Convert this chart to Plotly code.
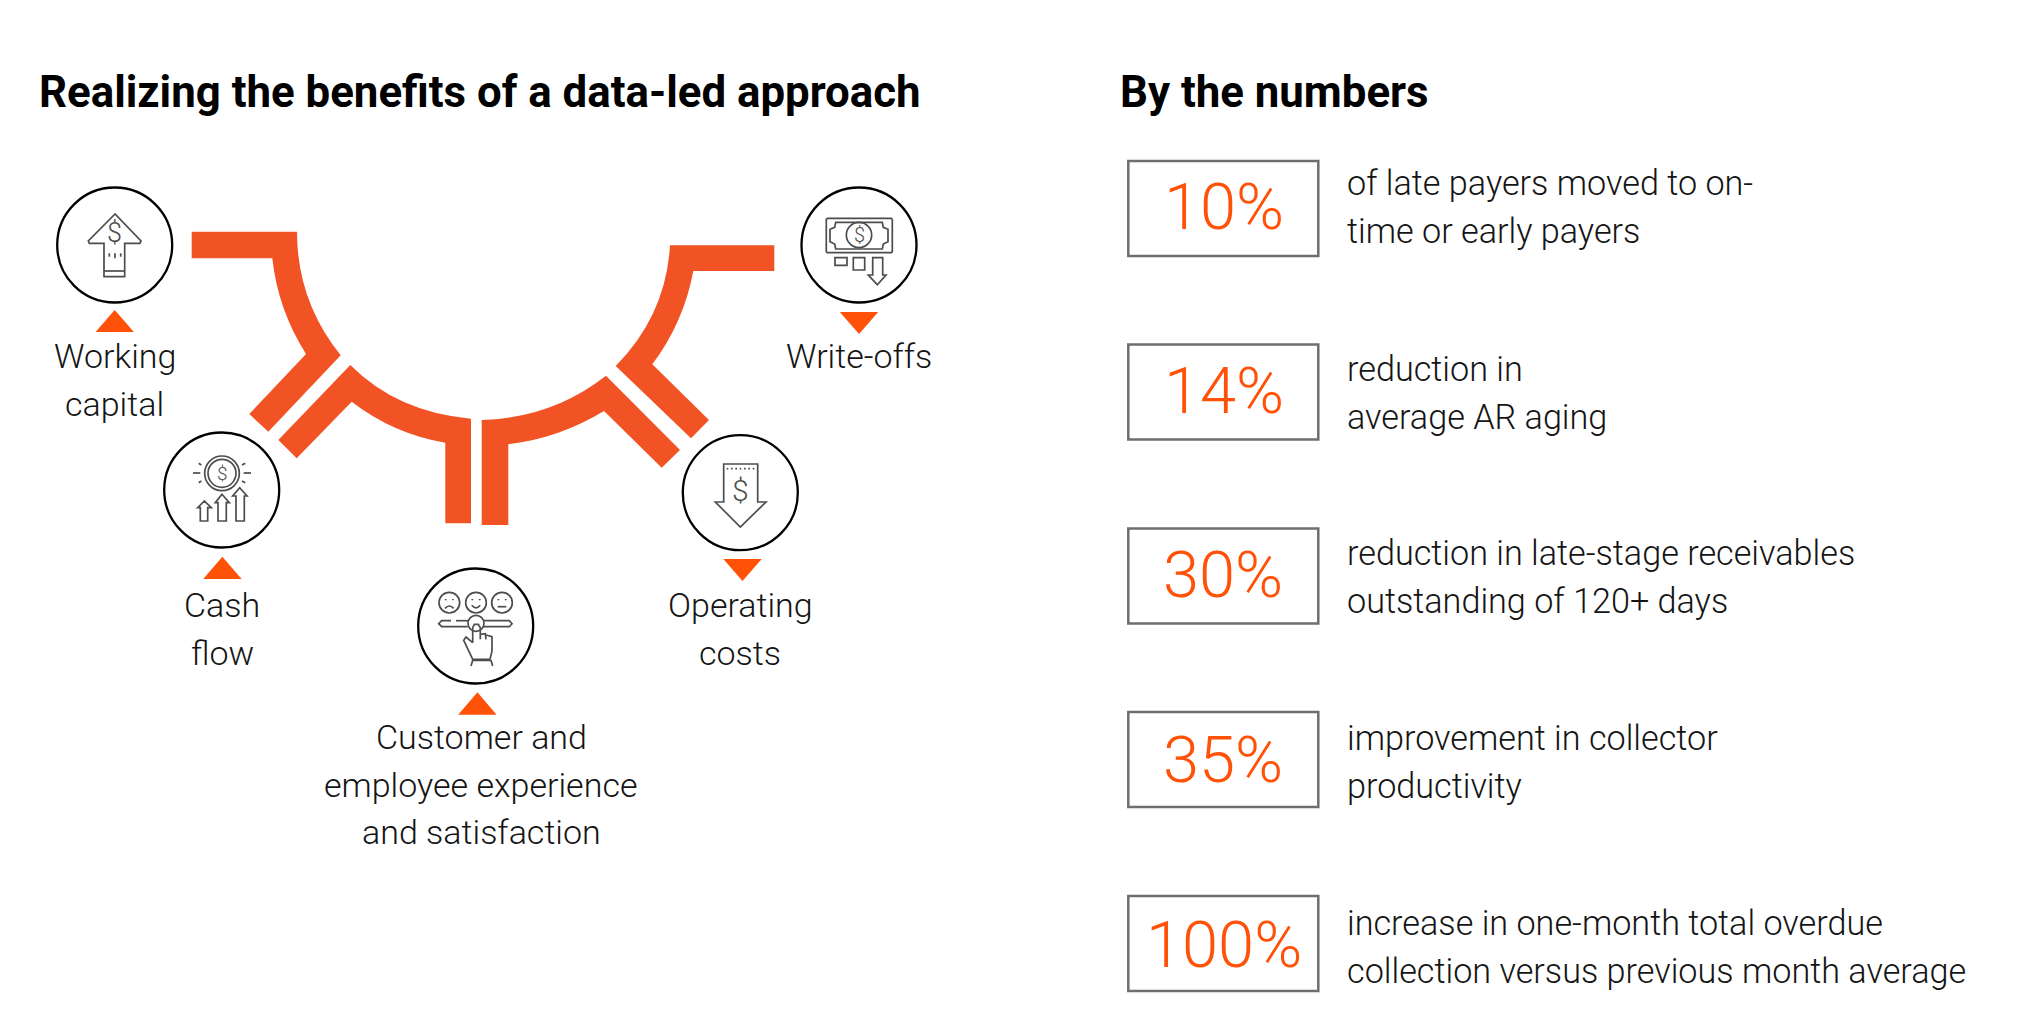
import plotly.graph_objects as go

# values and labels from the picture
percent_values = [10, 14, 30, 35, 100]
percent_notes = [
    ["of late payers moved to on-", "time or early payers"],
    ["reduction in", "average AR aging"],
    ["reduction in late-stage receivables", "outstanding of 120+ days"],
    ["improvement in collector", "productivity"],
    ["increase in one-month total overdue", "collection versus previous month average"],
]
benefit_labels = [
    ["Working", "capital"],
    ["Cash", "flow"],
    ["Customer and", "employee experience", "and satisfaction"],
    ["Operating", "costs"],
    ["Write-offs"],
]
headings = ["Realizing the benefits of a data-led approach", "By the numbers"]

# layout of the page, in pixels
box_tops = [161, 344.5, 528.5, 712, 896]
percent_x = [1224, 1224, 1222.7, 1223, 1224]
percent_baselines = [229.3, 413.3, 597.5, 782.5, 967.5]
note_baselines = [195, 380.7, 565, 750, 934.3]
circle_x = [114.7, 221.7, 475.7, 740.3, 859]
circle_y = [245, 490, 626, 492.7, 245]
label_x = [114.7, 222, 481, 740, 859]
label_baselines = [368, 616.7, 748.5, 616.7, 368]
# triangle: x centre, tip y, base y
triangles = [(114.7, 310, 332), (222.4, 556.7, 579), (477.4, 692.3, 714.7), (742.5, 581, 559), (859, 334, 312)]

RING = "#F25325"
TRI = "#FF5208"
PCT = "#FF5208"
INK = "#141414"
ICON = "#4D4D4D"
LIGHT = "Roboto"
LABEL_SIZE = 34

ring_paths = [
    "M191.7,231.7 L297,231.7 Q297,301 340.7,355.3 L268.3,431.7 L249.3,414 L306,354 Q278,310 272.3,258.3 L191.7,258.3 Z",
    "M350.3,365 Q397,412 471,418.7 L471,523.3 L445.3,523.3 L445.3,442.7 Q393.2,433.8 351.7,401.7 L296.7,458.3 L278.3,440 Z",
    "M481.7,420 Q552,418 606,375.7 L680,450 L661.7,467.7 L604,411 Q559.7,438 508.3,444.3 L508.3,525 L481.7,525 Z",
    "M670,245.3 L774.3,245.3 L774.3,271 L693.3,271 Q683.7,322.6 652.3,364.3 L709,420 L691,438.3 L615.7,366 Q666,315 670,245.3 Z",
]

fig = go.Figure()
shapes = []
annotations = []


def add_text(x, baseline, text, size, color=INK, weight=300, anchor="center"):
    annotations.append(dict(
        x=x, y=baseline - 0.34 * size, text=text, showarrow=False,
        xanchor=anchor, yanchor="middle",
        font=dict(family=LIGHT, size=size, color=color, weight=weight),
    ))


def add_circle(cx, cy, r, color=ICON, width=1.7):
    shapes.append(dict(type="circle", x0=cx - r, x1=cx + r, y0=cy - r, y1=cy + r,
                       line=dict(color=color, width=width)))


def add_path(path, color=ICON, width=1.7):
    shapes.append(dict(type="path", path=path, line=dict(color=color, width=width)))


def crop_icon(ox, oy):
    # icon sketches are measured on a 3x crop with its corner at (ox, oy)
    def px(x, y):
        return ox + x / 3, oy + y / 3

    def line(points, closed=False):
        parts = ["%s%.1f,%.1f" % ("M" if i == 0 else "L", *px(*p)) for i, p in enumerate(points)]
        add_path(" ".join(parts) + (" Z" if closed else ""))

    def ring(x, y, r):
        cx, cy = px(x, y)
        add_circle(cx, cy, r / 3)

    def curve(a, c, b):
        add_path("M%.1f,%.1f Q%.1f,%.1f %.1f,%.1f" % (*px(*a), *px(*c), *px(*b)))

    def dollar(x, y, size):
        cx, cy = px(x, y)
        add_text(cx, cy + 0.36 * size, "$", size, color=ICON)

    return line, ring, curve, dollar


for path in ring_paths:
    shapes.append(dict(type="path", path=path, fillcolor=RING, line=dict(width=0)))

for cx, cy in zip(circle_x, circle_y):
    add_circle(cx, cy, 57.5, color="#000000", width=2.3)

for cx, tip, base in triangles:
    shapes.append(dict(type="path", path="M%s,%s L%s,%s L%s,%s Z" % (cx - 19.2, base, cx, tip, cx + 19.2, base),
                       fillcolor=TRI, line=dict(width=0)))

# working capital icon
line, ring, curve, dollar = crop_icon(60, 190)
line([(165, 72), (85, 153), (88, 160), (132, 160), (132, 260), (194, 260), (194, 160), (240, 160), (243, 153)], True)
line([(132, 243), (194, 243)])
line([(148, 190), (148, 200)])
line([(165, 190), (165, 205)])
line([(182, 190), (182, 200)])
dollar(163, 128, 27)

# cash flow icon
line, ring, curve, dollar = crop_icon(167, 435)
ring(165, 115, 52)
ring(165, 115, 42)
dollar(165, 115, 19)
for a, b in [((78, 114), (100, 114)), ((230, 114), (252, 114)), ((95, 85), (103, 90)),
             ((95, 143), (103, 138)), ((225, 90), (235, 85)), ((225, 138), (235, 143))]:
    line([a, b])
line([(112, 198), (92, 218), (100, 218), (100, 258), (122, 258), (122, 218), (133, 218)], True)
line([(165, 178), (145, 203), (153, 203), (153, 258), (178, 258), (178, 203), (187, 203)], True)
line([(218, 158), (197, 183), (207, 183), (207, 258), (232, 258), (232, 183), (240, 183)], True)

# satisfaction icon
line, ring, curve, dollar = crop_icon(421, 571)
for fx in [85, 165, 243]:
    ring(fx, 95, 31)
    line([(fx - 11, 84), (fx - 11, 88)])
    line([(fx + 11, 84), (fx + 11, 88)])
curve((72, 112), (85, 98), (98, 112))
curve((152, 103), (165, 118), (178, 103))
line([(230, 107), (256, 107)])
line([(90, 149), (62, 149), (53, 158), (62, 167), (140, 167)])
line([(105, 149), (142, 149)])
line([(188, 149), (265, 149), (273, 158), (265, 167), (188, 167)])
ring(165, 157, 24)
line([(155, 215), (155, 170), (160, 160), (172, 160), (178, 170), (178, 205)])
line([(178, 190), (193, 188), (195, 205)])
line([(195, 192), (213, 197), (213, 240), (207, 265)])
line([(155, 215), (135, 198), (128, 208), (155, 265), (207, 265)])
line([(150, 285), (155, 268), (210, 268), (215, 285)])

# operating costs icon
line, ring, curve, dollar = crop_icon(686, 438)
line([(113, 78), (215, 78), (215, 192), (240, 192), (163, 267), (88, 192), (113, 192)], True)
for dot_x in range(122, 206, 13):
    line([(dot_x, 92), (dot_x + 5, 92)])
dollar(163, 155, 30)

# write-offs icon
line, ring, curve, dollar = crop_icon(804, 190)
line([(70, 85), (262, 85), (265, 88), (265, 185), (262, 188), (70, 188), (67, 185), (67, 88)], True)
line([(95, 97), (235, 97), (238, 112), (252, 118), (252, 155), (238, 162), (235, 177),
      (95, 177), (92, 162), (78, 155), (78, 118), (92, 112)], True)
ring(165, 135, 38)
dollar(165, 135, 20)
line([(93, 203), (129, 203), (129, 226), (93, 226)], True)
line([(148, 203), (182, 203), (182, 240), (148, 240)], True)
line([(206, 203), (236, 203), (236, 255), (246, 255), (220, 284), (193, 255), (206, 255)], True)

for lines, x, baseline in zip(benefit_labels, label_x, label_baselines):
    for i, text in enumerate(lines):
        add_text(x, baseline + i * 47.6, text, LABEL_SIZE)

add_text(37, 106.5, headings[0], 43.8, color="#000000", weight=700, anchor="left")
add_text(1118, 106.5, headings[1], 43.8, color="#000000", weight=700, anchor="left")

for i, value in enumerate(percent_values):
    top = box_tops[i]
    shapes.append(dict(type="rect", x0=1128.3, x1=1318.3, y0=top, y1=top + 95,
                       line=dict(color="#6E6E6E", width=2.5)))
    add_text(percent_x[i], percent_baselines[i], "%d%%" % value, 65, color=PCT)
    for j, text in enumerate(percent_notes[i]):
        add_text(1345.2, note_baselines[i] + j * 48, text, 34.2, anchor="left")

fig.update_layout(
    width=2024,
    height=1028,
    margin=dict(l=0, r=0, t=0, b=0),
    paper_bgcolor="#FFFFFF",
    plot_bgcolor="#FFFFFF",
    showlegend=False,
    shapes=shapes,
    annotations=annotations,
    # the page body sits 8px in from the window corner
    xaxis=dict(range=[8, 2032], visible=False),
    yaxis=dict(range=[1036, 8], visible=False),
)

fig.write_html("out.html")
